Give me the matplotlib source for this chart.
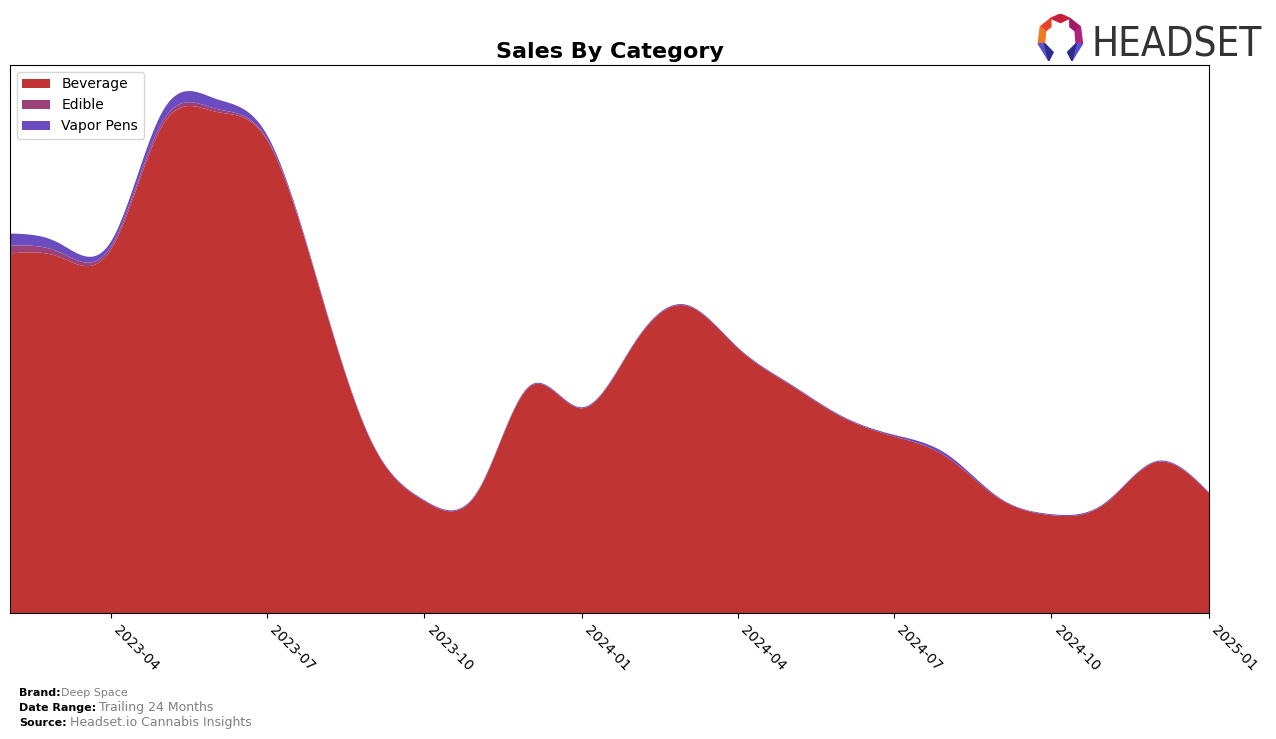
import numpy as np
import pandas as pd
import matplotlib.pyplot as plt
import matplotlib.dates as mdates
from matplotlib.patches import Polygon

# monthly sales (thousands)
months = pd.date_range("2023-02-01", "2025-01-01", freq="MS")
beverage = [360, 357, 364, 488, 502, 474, 323, 168, 112, 121, 226, 205,
            271, 308, 265, 229, 196, 177, 156, 114, 98, 109, 151, 120]
edible = [8, 5, 3, 4, 3, 1, 0.3, 0, 0, 0, 0, 0,
          0, 0, 0, 0, 0, 0, 0, 0, 0, 0, 0, 0]
vapor_pens = [12, 9, 5, 10, 10, 4, 1.5, 1, 1, 1, 1, 1,
              1, 1, 1, 1, 1, 1.5, 3, 1, 1, 1, 1, 1]

kategorien = ["Beverage", "Edible", "Vapor Pens"]
farben = ["#C13434", "#9C4078", "#6A4CC0"]


def natuerlicher_spline(x, y, x_neu):
    """Natuerlicher kubischer Spline, nur fuer die glatte Darstellung."""
    x = np.asarray(x, float)
    y = np.asarray(y, float)
    n = len(x)
    h = np.diff(x)
    A = np.zeros((n, n))
    b = np.zeros(n)
    A[0, 0] = A[-1, -1] = 1
    for i in range(1, n - 1):
        A[i, i - 1] = h[i - 1]
        A[i, i] = 2 * (h[i - 1] + h[i])
        A[i, i + 1] = h[i]
        b[i] = 3 * ((y[i + 1] - y[i]) / h[i] - (y[i] - y[i - 1]) / h[i - 1])
    c = np.linalg.solve(A, b)
    idx = np.clip(np.searchsorted(x, x_neu) - 1, 0, n - 2)
    dx = x_neu - x[idx]
    bb = (y[idx + 1] - y[idx]) / h[idx] - h[idx] * (2 * c[idx] + c[idx + 1]) / 3
    d = (c[idx + 1] - c[idx]) / (3 * h[idx])
    return y[idx] + bb * dx + c[idx] * dx ** 2 + d * dx ** 3


x_num = mdates.date2num(months)
x_fein = np.linspace(x_num[0], x_num[-1], 800)
reihen = [np.clip(natuerlicher_spline(x_num, s, x_fein), 0, None)
          for s in (beverage, edible, vapor_pens)]

fig = plt.figure(figsize=(12.76, 7.39), dpi=100)
ax = fig.add_axes([0.0078, 0.1705, 0.9397, 0.7416])
ax.stackplot(mdates.num2date(x_fein), *reihen, labels=kategorien, colors=farben)

gesamt = np.sum(reihen, axis=0)
ax.set_ylim(0, gesamt.max() * 1.05)
ax.set_xlim(months[0], months[-1])
ax.set_yticks([])
ax.xaxis.set_major_locator(mdates.MonthLocator(bymonth=[1, 4, 7, 10]))
ax.xaxis.set_major_formatter(mdates.DateFormatter("%Y-%m"))
plt.setp(ax.get_xticklabels(), rotation=-45, ha="left", fontsize=10)
ax.set_title("Sales By Category", fontsize=16, fontweight="bold", pad=5)
ax.legend(loc="upper left", fontsize=10)

# Fusszeile
fig.text(0.0149, 0.0581, "Brand:", fontsize=8, fontweight="bold")
fig.text(0.0478, 0.0581, "Deep Space", fontsize=8, color="#808080")
fig.text(0.0149, 0.0376, "Date Range:", fontsize=8, fontweight="bold")
fig.text(0.0776, 0.0376, "Trailing 24 Months", fontsize=9, color="#808080")
fig.text(0.0149, 0.0173, "Source:", fontsize=8, fontweight="bold")
fig.text(0.0549, 0.0173, "Headset.io Cannabis Insights", fontsize=9, color="#808080")

# Headset-Logo (vereinfacht)
logo = fig.add_axes([0.812, 0.915, 0.038, 0.066])
logo.set_xlim(0, 46)
logo.set_ylim(46, 0)
logo.axis("off")
teile = [
    ([(4, 12), (14, 4), (14, 12), (9, 16)], "#E8412C"),
    ([(14, 4), (23, 0), (32, 4), (23, 8)], "#C8203A"),
    ([(32, 4), (42, 12), (37, 16), (32, 12)], "#A3186A"),
    ([(42, 12), (44, 28), (38, 28), (37, 16)], "#B0207E"),
    ([(4, 12), (9, 16), (8, 28), (2, 28)], "#F07A22"),
    ([(2, 28), (8, 28), (16, 36), (12, 44)], "#5B4FCF"),
    ([(44, 28), (38, 28), (30, 36), (34, 44)], "#5B4FCF"),
    ([(8, 28), (16, 36), (12, 44)], "#2C2C8C"),
    ([(38, 28), (30, 36), (34, 44)], "#2C2C8C"),
]
for punkte, farbe in teile:
    logo.add_patch(Polygon(punkte, closed=True, color=farbe))
fig.text(0.8555, 0.923, "HEADSET", fontsize=29, color="#333333",
         fontstretch="condensed")

fig.savefig("out.png", dpi=100)
